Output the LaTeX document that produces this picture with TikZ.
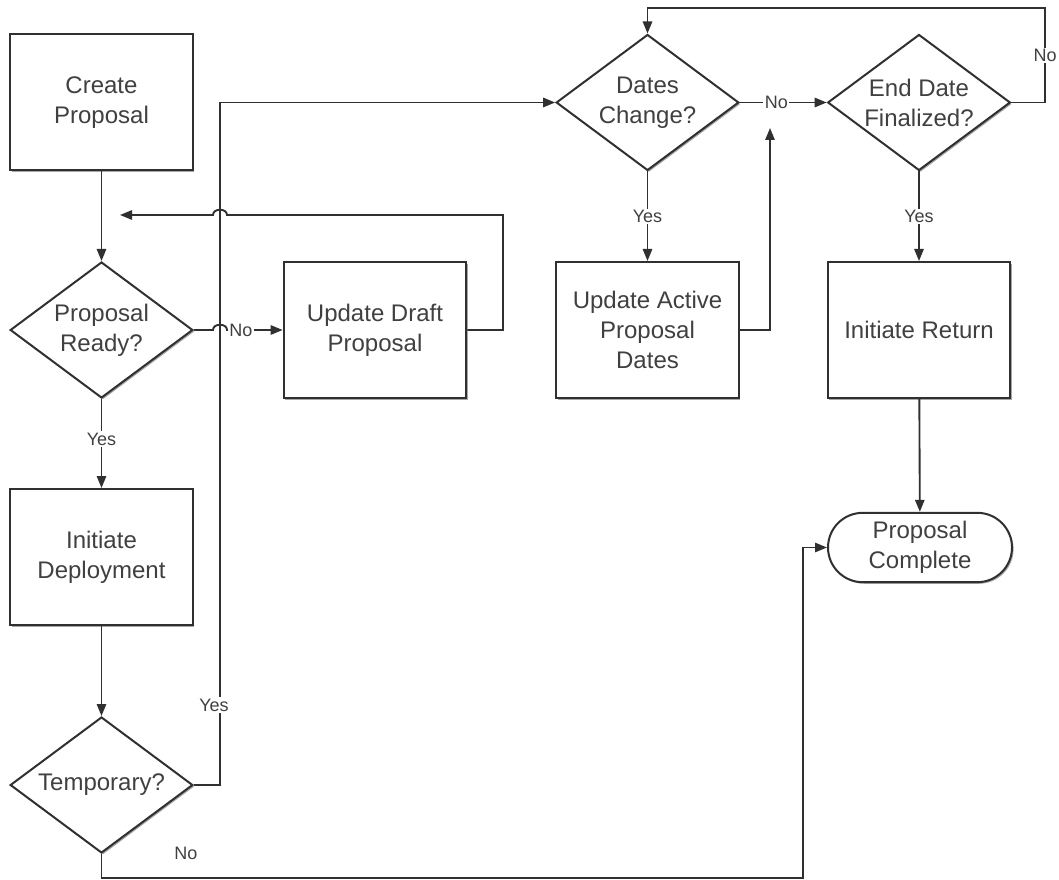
\documentclass[tikz,border=0pt]{standalone}
\usepackage{fontspec}
\setmainfont{Liberation Sans}
\usetikzlibrary{shapes.geometric,shapes.misc,arrows.meta,shadows}
\definecolor{ln}{HTML}{303030}
\definecolor{tx}{HTML}{404040}
\tikzset{
  base/.style={draw=ln, line width=1.5pt, fill=white, text=tx, align=center,
    font=\fontsize{18}{22.5}\selectfont, inner sep=0pt,
    drop shadow={shadow xshift=1.2pt, shadow yshift=-1.2pt, opacity=0.35, fill=black}},
  procbox/.style={base, rectangle, minimum width=137pt, minimum height=102pt},
  decision/.style={base, diamond, minimum width=137pt, minimum height=102pt},
  dtext/.style={text=tx, align=center, font=\fontsize{18}{22.5}\selectfont, inner sep=0pt},
  terminal/.style={base, rounded rectangle, minimum width=138pt, minimum height=52pt},
  conn/.style={draw=ln, line width=1.4pt},
  arr/.style={conn, -{Triangle[length=9pt,width=7pt]}},
  lbl/.style={fill=white, text=tx, font=\fontsize{13.5}{15}\selectfont, inner sep=1pt},
}
\begin{document}
\begin{tikzpicture}[x=0.75pt,y=-0.75pt]
\useasboundingbox (0,0) rectangle (1059,880);
\node[procbox] (create) at (101.5,102.5) {Create\\Proposal};
\node[decision] (ready) at (101.5,330) {};
\node[dtext] (readyt) at (ready) {Proposal\\Ready?};
\node[procbox] (draft) at (375,330) {Update Draft\\Proposal};
\node[procbox] (deploy) at (101.5,557) {Initiate\\Deployment};
\node[decision] (temp) at (101.5,785) {};
\node[dtext] (tempt) at (temp) {Temporary?};
\node[decision] (dates) at (647.5,102.5) {};
\node[dtext] (datest) at (dates) {Dates\\Change?};
\node[decision] (enddate) at (919,102.5) {};
\node[dtext] (enddatet) at (enddate) {End Date\\Finalized?};
\node[procbox] (active) at (647.5,330) {Update Active\\Proposal\\Dates};
\node[procbox] (ret) at (919,330) {Initiate Return};
\node[terminal] (done) at (920,547.5) {Proposal\\Complete};

\coordinate (back) at (120,215);
\coordinate (up) at (770,128);

% Create -> Ready
\draw[arr] (create) -- (ready);
% Ready -> Deploy
\draw[arr] (ready) -- node[lbl, pos=0.45]{Yes} (deploy);
% Deploy -> Temp
\draw[arr] (deploy) -- (temp);
% Temporary Yes -> Dates Change
\draw[arr] (temp.east) -- (220,785) -- (220,102.5) -- (dates.west);
\node[lbl] (yes1) at (214,705) {Yes};
% Ready No -> Draft (with hop)
\draw[arr] (ready.east) -- (213,330) .. controls (213,323) and (227,323) .. (227,330) -- (draft.west);
\node[lbl] (no1) at (241,330) {No};
% Draft -> back (with hop)
\draw[arr] (draft.east) -- (503,330) -- (503,215) -- (227,215) .. controls (227,208) and (213,208) .. (213,215) -- (back);
% Temporary No -> Done
\draw[arr] (temp.south) -- (101.5,878) -- (803,878) -- (803,547.5) -- (done.west);
\node[text=tx, font=\fontsize{13.5}{15}\selectfont] (no2) at (186,853) {No};
% Dates -> End date
\draw[arr] (dates.east) -- node[lbl, pos=0.42]{No} (enddate.west);
% Dates -> Active
\draw[arr] (dates.south) -- node[lbl, pos=0.5]{Yes} (active.north);
% Active -> up
\draw[arr] (active.east) -- (770,330) -- (up);
% End date No loop
\draw[arr] (enddate.east) -- (1045,102.5) -- node[lbl, pos=0.5]{No} (1045,8) -- (647.5,8) -- (dates.north);
% End date -> Return
\draw[arr] (enddate.south) -- node[lbl, pos=0.5]{Yes} (ret.north);
% Return -> Done
\draw[arr] (ret) -- (done);
\end{tikzpicture}
\end{document}
